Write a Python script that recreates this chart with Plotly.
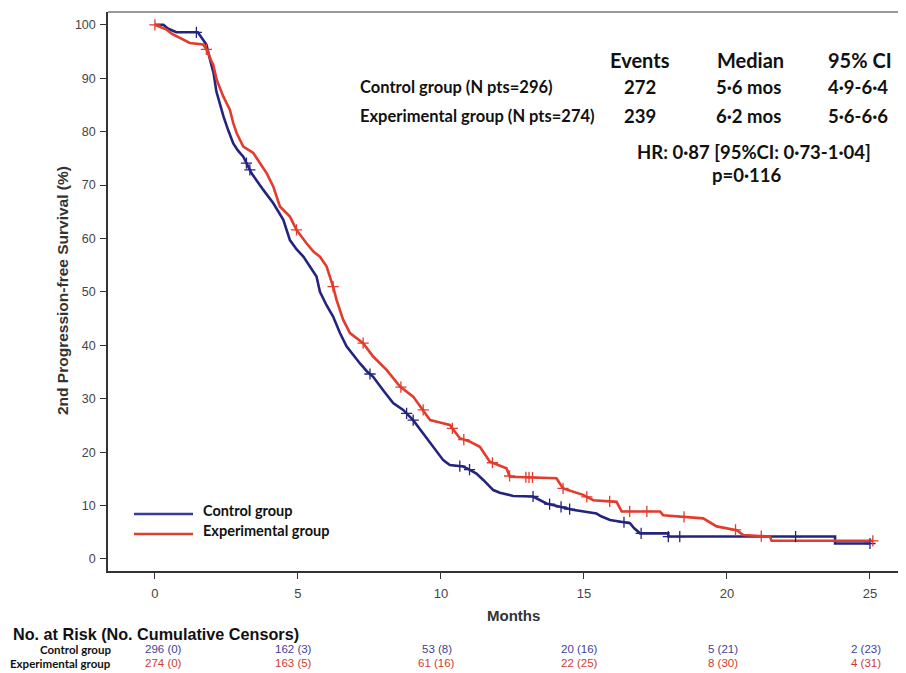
import numpy as np
import plotly.graph_objects as go

# ---------------- data ----------------
ctrl_t = [0, 0.3, 0.45, 0.75, 1.5, 1.65, 1.8, 1.95, 2.05, 2.15, 2.3, 2.4, 2.56, 2.74, 2.9,
          3.09, 3.38, 3.6, 3.79, 4.14, 4.49, 4.72, 4.95, 5.19, 5.4, 5.65, 5.77, 6.0, 6.23,
          6.47, 6.70, 6.95, 7.17, 7.4, 7.63, 7.98, 8.33, 8.68, 9.03, 9.38, 9.73, 10.08,
          10.31, 10.78, 11.01, 11.24, 11.48, 11.71, 11.83, 12.06, 12.53, 13.22, 13.45,
          13.69, 14.39, 14.6, 15.44, 15.6, 15.91, 16.61, 16.75, 16.96, 17.95, 17.95,
          23.78, 23.78, 25.0]
ctrl_s = [100, 100, 99.3, 98.6, 98.6, 97.5, 96.3, 93, 91, 87.5, 84.5, 82.8, 80.3, 77.8, 76.5,
          75.3, 72.2, 70.5, 69.1, 66.6, 63.5, 59.7, 58, 56.6, 55, 52.9, 50, 47.5, 45.4,
          42.3, 39.8, 38, 36.6, 35.2, 34.1, 31.6, 29.2, 27.9, 26.0, 23.5, 21.0, 18.5,
          17.6, 17.3, 16.7, 16.0, 14.8, 13.5, 12.9, 12.4, 11.8, 11.7, 11.0,
          10.4, 9.5, 9.2, 8.5, 8.0, 7.3, 6.7, 5.8, 4.8, 4.8, 4.2,
          4.2, 2.9, 2.9]

exp_t = [0, 0.2, 0.41, 0.6, 0.87, 1.22, 1.69, 1.85, 1.95, 2.04, 2.16, 2.39, 2.62, 2.74, 2.86,
         3.09, 3.44, 3.67, 3.91, 4.14, 4.37, 4.72, 4.95, 5.30, 5.55, 5.77, 6.00, 6.23, 6.35,
         6.58, 6.82, 7.28, 7.63, 8.10, 8.57, 9.03, 9.38, 9.62, 10.0, 10.31, 10.66, 11.0,
         11.36, 11.71, 12.0, 12.29, 12.41, 14.04, 14.27, 14.97, 15.33, 16.14, 16.32, 17.66,
         17.77, 19.17, 19.64, 20.34, 20.57, 21.5, 21.56, 25.1]
exp_s = [100, 99.6, 99.1, 98.3, 97.5, 96.6, 96.3, 95, 93.5, 92.5, 89.7, 86.6, 84.1, 81.6, 79.7,
         77.2, 76.0, 74.1, 72.2, 69.7, 66.0, 64.1, 61.6, 59.1, 57.5, 56.6, 54.8, 51.0, 48.5,
         44.8, 42.3, 40.4, 37.9, 35.4, 32.3, 30.4, 27.9, 26.0, 25.5, 25.1, 22.6, 22.0,
         21.0, 18.2, 17.6, 17.0, 15.4, 15.1, 13.2, 12.0, 11.0, 10.7, 8.9, 8.9,
         8.2, 7.6, 6.1, 5.4, 4.5, 4.2, 3.4, 3.4]

ctrl_censor_t = [1.45, 3.2, 3.32, 7.52, 8.8, 9.03, 10.66, 11.0, 13.22, 13.8, 14.2, 14.5,
                 16.4, 17.0, 17.95, 18.35, 22.4, 25.0]
exp_censor_t = [0.0, 1.8, 4.95, 6.23, 7.28, 8.6, 9.38, 10.4, 10.8, 11.8, 12.4, 12.97, 13.08,
                13.2, 14.27, 15.1, 15.9, 16.6, 17.2, 18.5, 20.3, 21.2, 25.1]

risk_months = [0, 5, 10, 15, 20, 25]
risk_ctrl = ["296 (0)", "162 (3)", "53 (8)", "20 (16)", "5 (21)", "2 (23)"]
risk_exp = ["274 (0)", "163 (5)", "61 (16)", "22 (25)", "8 (30)", "4 (31)"]

group_names = ["Control group", "Experimental group"]
stat_headers = ["Events", "Median", "95% CI"]
stat_rows = [["Control group (N pts=296)", "272", "5·6 mos", "4·9-6·4"],
             ["Experimental group (N pts=274)", "239", "6·2 mos", "5·6-6·6"]]
hr_text = "HR: 0·87 [95%CI: 0·73-1·04]"
p_text = "p=0·116"

# ---------------- style ----------------
BLUE = "#24247f"
RED = "#e33b2c"
BLUE_TXT = "#3f3f95"
RED_TXT = "#cf3b2f"
OFF = 8                      # page body margin offset
W, H = 906 - OFF, 673 - OFF
# plot area in screen pixels: x 108..906, y 12..571
SX0, SX1, SY0, SY1 = 108, 906, 12, 571
ML, MR, MT = SX0 - OFF, 906 - SX1, SY0 - OFF
MB = H - (SY1 - OFF)
PW, PH = SX1 - SX0, SY1 - SY0


def px(x):
    return (x - SX0) / PW


def py(y):
    return (SY1 - y) / PH


CAL = "Lato, 'Open Sans', sans-serif"
ARIAL = "'Liberation Sans', Arial, sans-serif"


def label(text, x, y, size, family, color="#111", xanchor="center", xref="paper",
          angle=0, xshift=0):
    return dict(text=text, x=x, y=py(y), xref=xref, yref="paper", xanchor=xanchor,
                yanchor="middle", textangle=angle, showarrow=False, xshift=xshift,
                font=dict(family=family, size=size, color=color))


fig = go.Figure()
fig.add_trace(go.Scatter(x=ctrl_t, y=ctrl_s, mode="lines",
                         line=dict(color=BLUE, width=2.6), showlegend=False))
fig.add_trace(go.Scatter(x=exp_t, y=exp_s, mode="lines",
                         line=dict(color=RED, width=2.6), showlegend=False))
fig.add_trace(go.Scatter(x=ctrl_censor_t, y=np.interp(ctrl_censor_t, ctrl_t, ctrl_s),
                         mode="markers", showlegend=False,
                         marker=dict(symbol="cross-thin", size=8,
                                     line=dict(color=BLUE, width=1.3))))
fig.add_trace(go.Scatter(x=exp_censor_t, y=np.interp(exp_censor_t, exp_t, exp_s),
                         mode="markers", showlegend=False,
                         marker=dict(symbol="cross-thin", size=8,
                                     line=dict(color=RED, width=1.3))))

ann = []
# axis titles
ann.append(label("<b>2nd Progression-free Survival (%)</b>", px(62), 291, 15.5, ARIAL,
                 color="#333", angle=-90))
ann.append(label("<b>Months</b>", px(513), 615, 15, ARIAL, color="#333"))
# legend
for name, yy in zip(group_names, [510, 530]):
    ann.append(label("<b>" + name + "</b>", px(201), yy, 14.5, CAL, xanchor="left"))
# stats block
for h, cx in zip(stat_headers, [640, 750, 860]):
    ann.append(label("<b>" + h + "</b>", px(cx), 60, 20, CAL))
for row, yy in zip(stat_rows, [87, 116]):
    ann.append(label("<b>" + row[0] + "</b>", px(358), yy, 16.5, CAL, xanchor="left"))
    for val, cx in zip(row[1:], [640, 748, 858]):
        ann.append(label("<b>" + val + "</b>", px(cx), yy, 18.5, CAL))
ann.append(label("<b>" + hr_text + "</b>", px(754), 152, 18.5, CAL))
ann.append(label("<b>" + p_text + "</b>", px(747), 175, 18.5, CAL))
# risk table
ann.append(label("<b>No. at Risk (No. Cumulative Censors)</b>", px(11), 634, 16.2, ARIAL,
                 xanchor="left"))
for name, yy in zip(group_names, [649, 663]):
    ann.append(label("<b>" + name + "</b>", px(113), yy, 11.5, CAL, xanchor="right"))
for vals, yy, col in zip([risk_ctrl, risk_exp], [649, 663], [BLUE_TXT, RED_TXT]):
    for m, v in zip(risk_months, vals):
        ann.append(label(v, m, yy, 11.5, "'Liberation Sans Narrow', " + ARIAL, color=col,
                         xref="x", xshift=(9 if m == 0 else -4)))

shapes = [
    dict(type="line", xref="paper", yref="paper", x0=0, x1=1, y0=1, y1=1,
         line=dict(color="#777", width=1.5)),
    dict(type="line", xref="paper", yref="paper", x0=px(134), x1=px(193), y0=py(514),
         y1=py(514), line=dict(color="#3b3b9a", width=2.6)),
    dict(type="line", xref="paper", yref="paper", x0=px(134), x1=px(193), y0=py(534),
         y1=py(534), line=dict(color=RED, width=2.6)),
]

fig.update_layout(
    width=W, height=H, margin=dict(l=ML, r=MR, t=MT, b=MB),
    paper_bgcolor="white", plot_bgcolor="white",
    annotations=ann, shapes=shapes, showlegend=False,
    xaxis=dict(range=[-1.64, 26.26], tickvals=[0, 5, 10, 15, 20, 25], ticks="outside",
               ticklen=6, tickcolor="#333", showline=True, linecolor="#333", linewidth=1.5,
               showgrid=False, zeroline=False, ticklabelstandoff=4,
               tickfont=dict(family=ARIAL, size=13, color="#444")),
    yaxis=dict(range=[-2.25, 102.4], tickvals=list(range(0, 101, 10)), ticks="outside",
               ticklen=6, tickcolor="#333", showline=True, linecolor="#333", linewidth=1.5,
               showgrid=False, zeroline=False, ticklabelstandoff=2,
               tickfont=dict(family=ARIAL, size=12.5, color="#444")),
)

fig.write_html("out.html")
